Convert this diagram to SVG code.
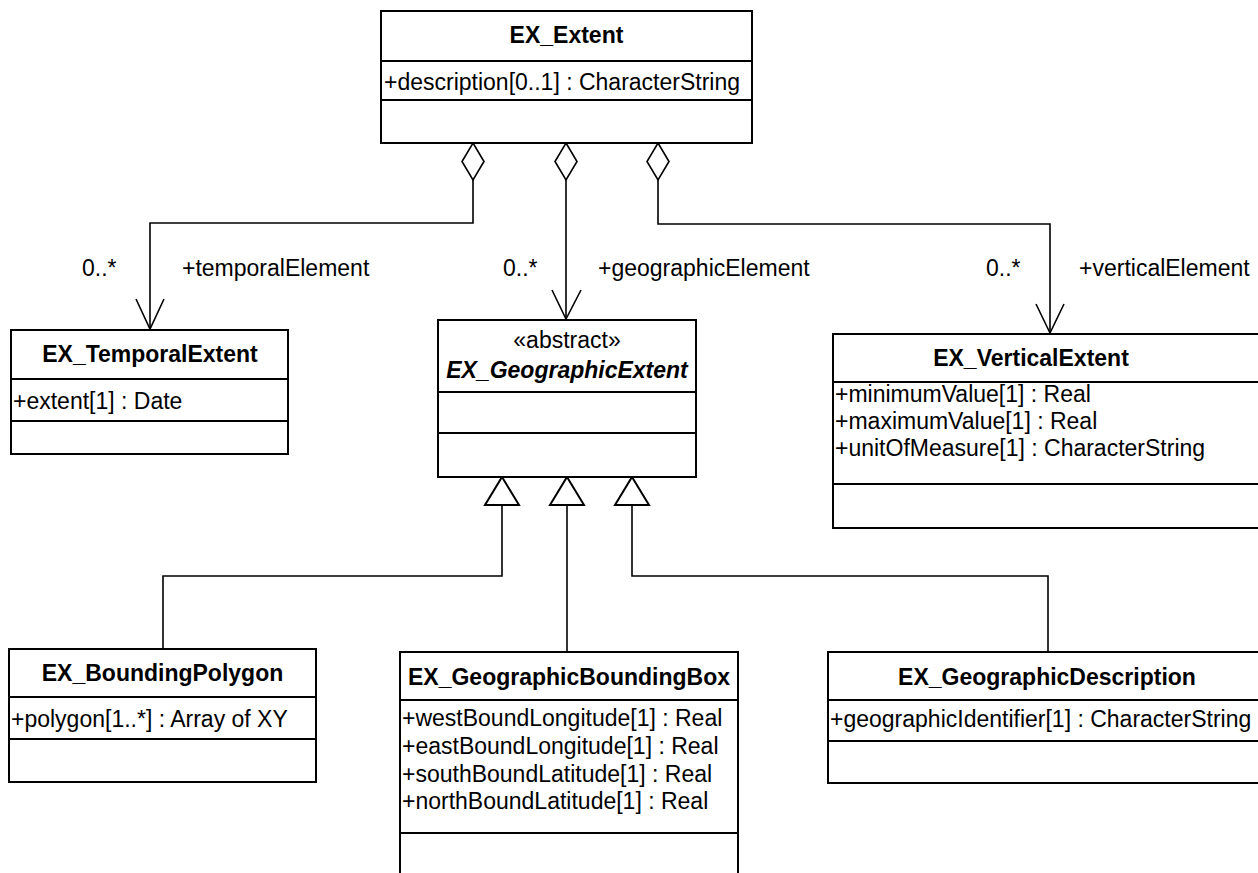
<svg xmlns="http://www.w3.org/2000/svg" width="1258" height="873" viewBox="0 0 1258 873">
<style>
.box{fill:#fff;stroke:#000;stroke-width:2}
.div{stroke:#000;stroke-width:2}
.ln{fill:none;stroke:#000;stroke-width:1.6}
.t{font-family:"Liberation Sans",Arial,sans-serif;font-size:23px;fill:#000}
.n{font-family:"Liberation Sans",Arial,sans-serif;font-size:23px;font-weight:bold;fill:#000;text-anchor:middle}
.ni{font-style:italic}
.c{text-anchor:middle}
.dia{fill:#fff;stroke:#000;stroke-width:1.6}
.tri{fill:#fff;stroke:#000;stroke-width:2}
</style>
<rect width="1258" height="873" fill="#fff"/>

<g id="connectors">
  <!-- aggregations -->
  <polyline class="ln" points="473,180 473,223 150,223 150,329"/>
  <polyline class="ln" points="136,299 150,329 164,299"/>
  <polyline class="ln" points="566,180 566,319"/>
  <polyline class="ln" points="552,290 566,319 581,290"/>
  <polyline class="ln" points="658,180 658,224 1050,224 1050,333"/>
  <polyline class="ln" points="1036,304 1050,333 1064,304"/>
  <polygon class="dia" points="473,143 484,161.5 473,180 462,161.5"/>
  <polygon class="dia" points="566,143 577,161.5 566,180 555,161.5"/>
  <polygon class="dia" points="658,143 669,161.5 658,180 647,161.5"/>
  <text class="t" x="82" y="276">0..*</text>
  <text class="t" x="182" y="276">+temporalElement</text>
  <text class="t" x="503" y="276">0..*</text>
  <text class="t" x="598" y="276">+geographicElement</text>
  <text class="t" x="986" y="276">0..*</text>
  <text class="t" x="1079" y="276">+verticalElement</text>
  <!-- generalizations -->
  <polyline class="ln" points="502,505 502,576 163,576 163,649"/>
  <polyline class="ln" points="567,505 567,652"/>
  <polyline class="ln" points="632,505 632,576 1048,576 1048,652"/>
  <polygon class="tri" points="502,477 519,505 485,505"/>
  <polygon class="tri" points="567,477 584,505 550,505"/>
  <polygon class="tri" points="632,477 649,505 615,505"/>
</g>

<g id="EX_Extent">
  <rect class="box" x="381" y="11" width="371" height="132"/>
  <line class="div" x1="381" y1="61" x2="752" y2="61"/>
  <line class="div" x1="381" y1="100" x2="752" y2="100"/>
  <text class="n" x="566.5" y="43">EX_Extent</text>
  <text class="t" x="384" y="90">+description[0..1] : CharacterString</text>
</g>

<g id="EX_TemporalExtent">
  <rect class="box" x="11" y="330" width="277" height="124"/>
  <line class="div" x1="11" y1="379" x2="288" y2="379"/>
  <line class="div" x1="11" y1="421" x2="288" y2="421"/>
  <text class="n" x="150" y="362">EX_TemporalExtent</text>
  <text class="t" x="13" y="409">+extent[1] : Date</text>
</g>

<g id="EX_GeographicExtent">
  <rect class="box" x="438" y="320" width="258" height="157"/>
  <line class="div" x1="438" y1="392" x2="696" y2="392"/>
  <line class="div" x1="438" y1="433" x2="696" y2="433"/>
  <text class="t c" x="567" y="348">«abstract»</text>
  <text class="n ni" x="567" y="378">EX_GeographicExtent</text>
</g>

<g id="EX_VerticalExtent">
  <rect class="box" x="833" y="334" width="440" height="194"/>
  <line class="div" x1="833" y1="382" x2="1273" y2="382"/>
  <line class="div" x1="833" y1="484" x2="1273" y2="484"/>
  <text class="n" x="1031" y="366">EX_VerticalExtent</text>
  <text class="t" x="835" y="402">+minimumValue[1] : Real</text>
  <text class="t" x="835" y="429">+maximumValue[1] : Real</text>
  <text class="t" x="835" y="456">+unitOfMeasure[1] : CharacterString</text>
</g>

<g id="EX_BoundingPolygon">
  <rect class="box" x="9" y="649" width="307" height="133"/>
  <line class="div" x1="9" y1="697" x2="316" y2="697"/>
  <line class="div" x1="9" y1="739" x2="316" y2="739"/>
  <text class="n" x="162.5" y="681">EX_BoundingPolygon</text>
  <text class="t" x="11" y="727">+polygon[1..*] : Array of XY</text>
</g>

<g id="EX_GeographicBoundingBox">
  <rect class="box" x="400" y="652" width="338" height="240"/>
  <line class="div" x1="400" y1="700" x2="738" y2="700"/>
  <line class="div" x1="400" y1="833" x2="738" y2="833"/>
  <text class="n" x="569" y="685">EX_GeographicBoundingBox</text>
  <text class="t" x="402" y="726">+westBoundLongitude[1] : Real</text>
  <text class="t" x="402" y="754">+eastBoundLongitude[1] : Real</text>
  <text class="t" x="402" y="782">+southBoundLatitude[1] : Real</text>
  <text class="t" x="402" y="809">+northBoundLatitude[1] : Real</text>
</g>

<g id="EX_GeographicDescription">
  <rect class="box" x="828" y="652" width="445" height="131"/>
  <line class="div" x1="828" y1="700" x2="1273" y2="700"/>
  <line class="div" x1="828" y1="741" x2="1273" y2="741"/>
  <text class="n" x="1047" y="685">EX_GeographicDescription</text>
  <text class="t" x="830" y="727">+geographicIdentifier[1] : CharacterString</text>
</g>
</svg>
